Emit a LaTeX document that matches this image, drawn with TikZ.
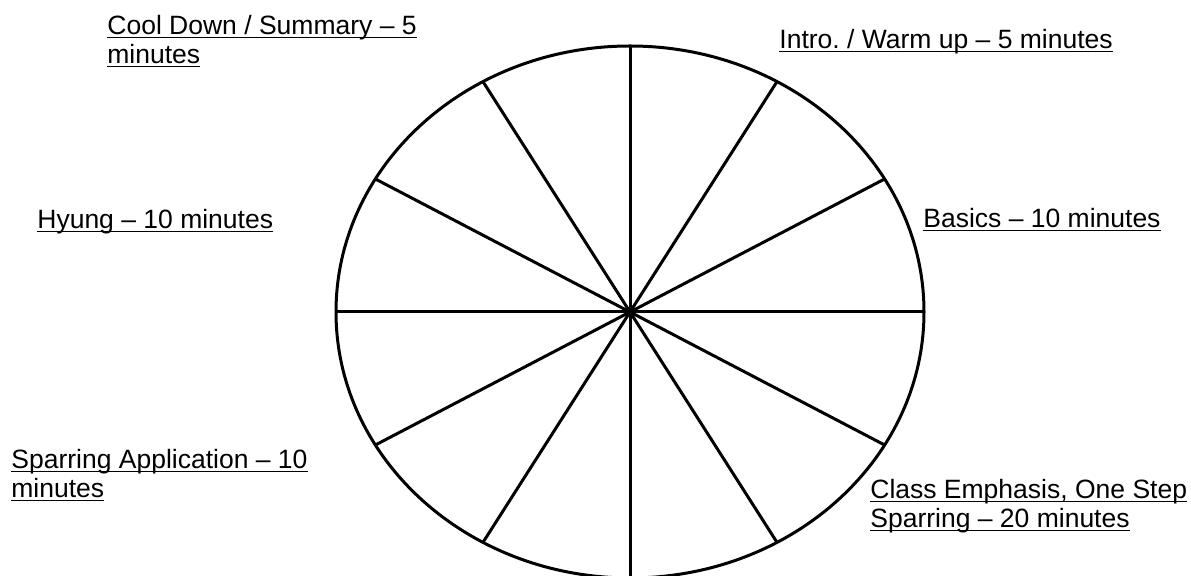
\documentclass[tikz,border=0pt]{standalone}
\usepackage{fontspec}
\setmainfont{Liberation Sans}
\usepackage{tikz}
\usetikzlibrary{calc}
\frenchspacing
\newcommand{\undl}[1]{\setbox0=\hbox{#1}\rlap{\rule[-1.7pt]{\wd0}{0.9pt}}\box0}
\newcommand{\lblfont}{\fontsize{13.25}{14.5}\selectfont}
\begin{document}
\begin{tikzpicture}[x=0.5pt,y=-0.5pt,
  lbl/.style={anchor=base west,align=left,inner sep=0pt,font=\lblfont},
  wheel/.style={line width=1.5pt}]
 \useasboundingbox (0,0) rectangle (1191,576);
 \clip (0,0) rectangle (1191,576);
 \coordinate (hub) at (630,312);
 \draw[wheel] (hub) ellipse [x radius=147pt,y radius=133pt];
 \foreach \a in {0,30,...,330}
   \draw[wheel] (hub) -- ($(hub)+(\a:147pt and 133pt)$);
 % two-line labels: base is the last line
 \node[lbl] (cooldown) at (107,64) {\undl{Cool Down / Summary -- 5}\\\undl{minutes}};
 \node[lbl] (intro) at (779,49) {\undl{Intro. / Warm up -- 5 minutes}};
 \node[lbl] (hyung) at (37,229) {\undl{Hyung -- 10 minutes}};
 \node[lbl] (basics) at (923,228) {\undl{Basics -- 10 minutes}};
 \node[lbl] (sparapp) at (11,498) {\undl{Sparring Application -- 10}\\\undl{minutes}};
 \node[lbl] (emphasis) at (870,528) {\undl{Class Emphasis, One Step}\\\undl{Sparring -- 20 minutes}};
\end{tikzpicture}
\end{document}
